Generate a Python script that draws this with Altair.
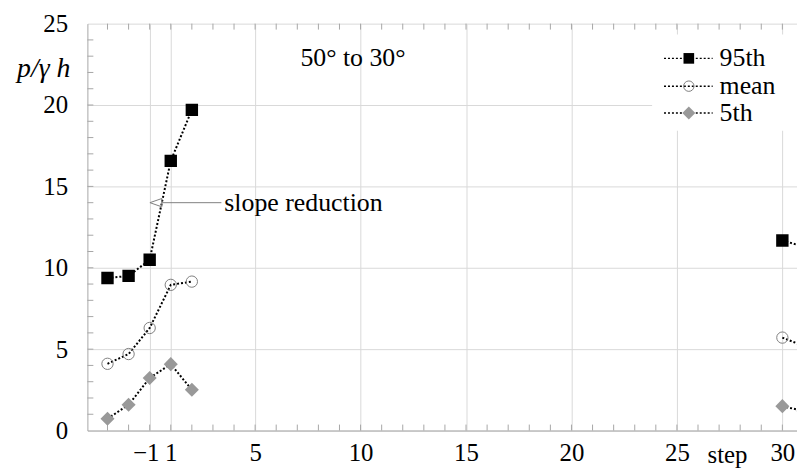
import altair as alt
import pandas as pd

# x positions: step -3,-2,-1 are drawn at -2,-1,0 (there is no step 0)
x_pos = [-2, -1, 0, 1, 2, 30, 31]
segment = ["a", "a", "a", "a", "a", "b", "b"]
p95 = [9.37, 9.5, 10.49, 16.57, 19.7, 11.68, 11.3]
mean = [4.1, 4.7, 6.3, 8.95, 9.15, 5.71, 5.2]
p5 = [0.73, 1.58, 3.23, 4.08, 2.5, 1.5, 1.2]

x_ticks = [0, 1, 5, 10, 15, 20, 25, 30]
y_ticks = [0, 5, 10, 15, 20, 25]
x_minor = list(range(-2, 31))
y_minor = list(range(1, 25))
legend_labels = ["95th", "mean", "5th"]

FONT = "'Liberation Serif', 'Times New Roman', Times, serif"
GRID = "#d9d9d9"
AXIS = "#a6a6a6"
W, H = 715, 410

rows = []
for name, vals in [("95th", p95), ("mean", mean), ("5th", p5)]:
    for x, v, s in zip(x_pos, vals, segment):
        rows.append({"x": x, "v": v, "series": name, "grp": name + s})
df = pd.DataFrame(rows)

xscale = alt.Scale(domain=[-2.953, 30.694], nice=False, zero=False)
yscale = alt.Scale(domain=[0, 25], nice=False, zero=False)

xaxis = alt.Axis(values=x_ticks, labelExpr="datum.value == 0 ? '\u22121' : datum.label",
                 grid=True, gridColor=GRID, ticks=False, domainColor=AXIS,
                 labelFont=FONT, labelFontSize=25, labelColor="black", labelPadding=10,
                 labelOffset={"condition": {"test": "datum.value == 0", "value": -4}, "value": 0},
                 labelOverlap=False, labelFlush=False, labelBound=False, title=None)
yaxis = alt.Axis(values=y_ticks, grid=True, gridColor=GRID, ticks=False, domainColor=AXIS,
                 labelFont=FONT, labelFontSize=25, labelColor="black", labelPadding=20,
                 labelOverlap=False, labelFlush=False, title=None)

base = alt.Chart(df)
X = alt.X("x:Q", scale=xscale, axis=xaxis)
Y = alt.Y("v:Q", scale=yscale, axis=yaxis)

lines = base.mark_line(strokeDash=[2, 2], strokeWidth=2, color="black", clip=True).encode(
    x=X, y=Y, detail="grp:N")

pts95 = base.transform_filter("datum.series == '95th'").mark_point(
    shape="square", filled=True, color="black", size=156, opacity=1, clip=True).encode(x=X, y=Y)
ptsm = base.transform_filter("datum.series == 'mean'").mark_point(
    shape="circle", filled=False, stroke="#7f7f7f", strokeWidth=1, size=130, opacity=1, clip=True).encode(x=X, y=Y)
pts5 = base.transform_filter("datum.series == '5th'").mark_point(
    shape="diamond", filled=True, color="#999999", size=200, opacity=1, clip=True).encode(x=X, y=Y)

xm = pd.DataFrame({"x": x_minor})
ym = pd.DataFrame({"v": y_minor})
tick_bottom = alt.Chart(xm).mark_rule(color=AXIS).encode(
    x=alt.X("x:Q", scale=xscale, axis=xaxis), y=alt.value(H), y2=alt.value(H - 6))
tick_top = alt.Chart(xm).mark_rule(color=AXIS).encode(
    x=alt.X("x:Q", scale=xscale, axis=xaxis), y=alt.value(0), y2=alt.value(6))
tick_left = alt.Chart(ym).mark_rule(color=AXIS).encode(
    y=alt.Y("v:Q", scale=yscale, axis=yaxis), x=alt.value(0), x2=alt.value(6))

one = pd.DataFrame({"a": [0]})

title_txt = alt.Chart(one).mark_text(font=FONT, fontSize=26, color="black").encode(
    x=alt.datum(9.64), y=alt.datum(22.9), text=alt.value("50\u00b0 to 30\u00b0"))

arrow_line = alt.Chart(one).mark_rule(color="#808080", strokeWidth=1).encode(
    x=alt.datum(0.56), x2=alt.datum(3.4), y=alt.datum(14))
arrow_head = alt.Chart(one).mark_point(
    shape="M-1,0 L1,-0.7 L1,0.7 Z", filled=False, stroke="#808080", strokeWidth=1,
    size=144, opacity=1).encode(x=alt.datum(0.294), y=alt.datum(14))
arrow_txt = alt.Chart(one).mark_text(font=FONT, fontSize=26, color="black", align="left",
                                     baseline="middle").encode(
    x=alt.datum(3.54), y=alt.datum(14), text=alt.value("slope reduction"))

ytitle = alt.Chart(one).mark_text(font=FONT, fontSize=28, fontStyle="italic", color="black",
                                  baseline="middle").encode(
    x=alt.value(-44), y=alt.value(46), text=alt.value("p/\u03b3 h"))
step_txt = alt.Chart(one).mark_text(font=FONT, fontSize=25, color="black",
                                    baseline="alphabetic").encode(
    x=alt.datum(27.4), y=alt.value(443), text=alt.value("step"))

# legend
leg_box = alt.Chart(one).mark_rect(color="white").encode(
    x=alt.value(569), x2=alt.value(715), y=alt.value(11), y2=alt.value(108))
leg_layers = [leg_box]
leg_y = [35, 63, 90]
marker_styles = [
    dict(shape="square", filled=True, color="black", size=115),
    dict(shape="circle", filled=False, stroke="#7f7f7f", strokeWidth=1, size=110),
    dict(shape="diamond", filled=True, color="#999999", size=170),
]
for lab, yy, st in zip(legend_labels, leg_y, marker_styles):
    leg_layers.append(alt.Chart(one).mark_rule(strokeDash=[2, 2], strokeWidth=1.5, color="black").encode(
        x=alt.value(581), x2=alt.value(630), y=alt.value(yy)))
    leg_layers.append(alt.Chart(one).mark_point(opacity=1, **st).encode(
        x=alt.value(606), y=alt.value(yy)))
    leg_layers.append(alt.Chart(one).mark_text(font=FONT, fontSize=26, color="black", align="left",
                                               baseline="middle").encode(
        x=alt.value(637), y=alt.value(yy), text=alt.value(lab)))

chart = alt.layer(
    tick_bottom, tick_top, tick_left, lines, pts95, ptsm, pts5,
    title_txt, arrow_line, arrow_head, arrow_txt, ytitle, step_txt, *leg_layers
).properties(
    width=W, height=H,
    padding={"left": 80, "top": 14, "right": 0, "bottom": 37},
    autosize=alt.AutoSizeParams(type="none"),
).configure_view(stroke=None).configure_axis(
    labelFont=FONT, labelFontSize=25, labelColor="black"
).configure_text(font=FONT)

chart.save("out.html", embed_options={"renderer": "svg", "actions": False})
